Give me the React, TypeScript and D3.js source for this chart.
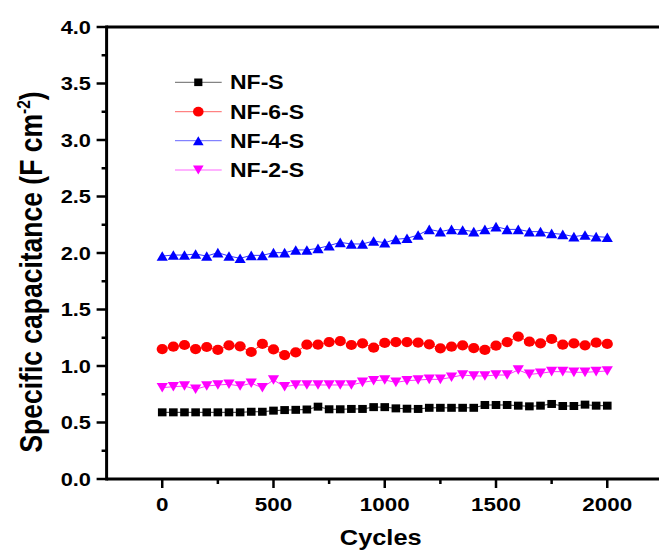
import React from "react";
import * as d3 from "d3";

const cycles: number[] = d3.range(0, 2001, 50);

const nfS: number[] = [
  0.59, 0.59, 0.59, 0.59, 0.59, 0.59, 0.59, 0.59, 0.595, 0.595,
  0.605, 0.61, 0.612, 0.615, 0.64, 0.617, 0.617, 0.62, 0.62, 0.636,
  0.636, 0.625, 0.622, 0.62, 0.63, 0.63, 0.63, 0.63, 0.63, 0.655,
  0.655, 0.655, 0.649, 0.643, 0.649, 0.664, 0.646, 0.646, 0.658, 0.649,
  0.649,
];
const nf6S: number[] = [
  1.15, 1.171, 1.186, 1.15, 1.168, 1.142, 1.183, 1.174, 1.124, 1.195,
  1.148, 1.097, 1.121, 1.189, 1.189, 1.212, 1.221, 1.186, 1.201, 1.162,
  1.204, 1.212, 1.212, 1.206, 1.192, 1.156, 1.171, 1.183, 1.159, 1.142,
  1.18, 1.212, 1.26, 1.215, 1.201, 1.239, 1.189, 1.201, 1.183, 1.206,
  1.195,
];
const nf4S: number[] = [
  1.973, 1.982, 1.982, 1.991, 1.973, 2.003, 1.973, 1.953, 1.979, 1.979,
  2.003, 2.003, 2.027, 2.027, 2.041, 2.065, 2.094, 2.08, 2.08, 2.106,
  2.091, 2.121, 2.13, 2.159, 2.209, 2.189, 2.209, 2.204, 2.189, 2.209,
  2.233, 2.209, 2.209, 2.189, 2.189, 2.174, 2.165, 2.145, 2.159, 2.145,
  2.139,
];
const nf2S: number[] = [
  0.808, 0.817, 0.823, 0.794, 0.823, 0.832, 0.838, 0.823, 0.847, 0.808,
  0.876, 0.817, 0.832, 0.832, 0.832, 0.832, 0.832, 0.832, 0.855, 0.87,
  0.876, 0.855, 0.87, 0.876, 0.882, 0.882, 0.9, 0.92, 0.912, 0.912,
  0.92, 0.92, 0.965, 0.926, 0.935, 0.95, 0.95, 0.944, 0.944, 0.95,
  0.956,
];

const seriesNames: string[] = ["NF-S", "NF-6-S", "NF-4-S", "NF-2-S"];
const seriesColors: string[] = ["#000000", "#ff0000", "#0000ff", "#ff00ff"];
const seriesShapes: string[] = ["square", "circle", "triangleUp", "triangleDown"];
const seriesValues: number[][] = [nfS, nf6S, nf4S, nf2S];

const xTicks: number[] = [0, 500, 1000, 1500, 2000];
const xMinorTicks: number[] = [250, 750, 1250, 1750];
const yTicks: number[] = [0, 0.5, 1, 1.5, 2, 2.5, 3, 3.5, 4];
const yMinorTicks: number[] = [0.25, 0.75, 1.25, 1.75, 2.25, 2.75, 3.25, 3.75];

const W = 659;
const H = 552;
const SX = 1.18;
const FONT = "'Liberation Sans', Arial, sans-serif";

function Marker({ shape, x, y, color, s = 1 }: { shape: string; x: number; y: number; color: string; s?: number }) {
  if (shape === "square") {
    const w = 8.6 * s, h = 8 * s;
    return <rect x={x - w / 2} y={y - h / 2} width={w} height={h} fill={color} />;
  }
  if (shape === "circle") {
    return <ellipse cx={x} cy={y} rx={5.6 * s} ry={5.1 * s} fill={color} />;
  }
  const hw = 5.6 * s, hh = 4.8 * s;
  if (shape === "triangleUp") {
    return <path d={`M${x},${y - hh}L${x + hw},${y + hh}L${x - hw},${y + hh}Z`} fill={color} />;
  }
  return <path d={`M${x},${y + hh}L${x + hw},${y - hh}L${x - hw},${y - hh}Z`} fill={color} />;
}

export default function App() {
  const x = d3.scaleLinear().domain([-250, 2250]).range([106.6, 662.9]);
  const y = d3.scaleLinear().domain([0, 4]).range([479, 27]);
  const x0 = x(-250);
  const y0 = y(0);
  const yTop = y(4);

  const line = d3
    .line<number>()
    .x((_, i) => x(cycles[i]))
    .y((d) => y(d));

  const legendY = [82.3, 111.7, 140.7, 170];

  return (
    <svg
      width={W}
      height={H}
      style={{ position: "absolute", left: 0, top: 0, background: "#fff" }}
      fontFamily={FONT}
    >
      <rect x={0} y={0} width={W} height={H} fill="#fff" />
      {/* series */}
      {seriesValues.map((vals, si) => (
        <g key={seriesNames[si]}>
          <path d={line(vals) || ""} fill="none" stroke={seriesColors[si]} strokeWidth={1} opacity={0.8} />
          {vals.map((v, i) => (
            <Marker key={i} shape={seriesShapes[si]} x={x(cycles[i])} y={y(v)} color={seriesColors[si]} />
          ))}
        </g>
      ))}

      {/* axes */}
      <line x1={x0} x2={W + 5} y1={yTop} y2={yTop} stroke="#000" strokeWidth={3} />
      <line x1={x0} x2={W + 5} y1={y0} y2={y0} stroke="#000" strokeWidth={3} />
      <line x1={x0} x2={x0} y1={yTop - 1.5} y2={y0 + 1.5} stroke="#000" strokeWidth={3} />

      {yTicks.map((t) => (
        <g key={"y" + t}>
          <line x1={x0 - 10} x2={x0} y1={y(t)} y2={y(t)} stroke="#000" strokeWidth={2.5} />
          <text
            transform={`translate(91,${y(t)}) scale(${SX},1)`}
            textAnchor="end"
            dy="0.36em"
            fontSize={18.5}
            fontWeight="bold"
          >
            {t.toFixed(1)}
          </text>
        </g>
      ))}
      {yMinorTicks.map((t) => (
        <line key={"ym" + t} x1={x0 - 5} x2={x0} y1={y(t)} y2={y(t)} stroke="#000" strokeWidth={2.5} />
      ))}
      {xTicks.map((t) => (
        <g key={"x" + t}>
          <line x1={x(t)} x2={x(t)} y1={y0} y2={y0 + 9} stroke="#000" strokeWidth={2.5} />
          <text
            transform={`translate(${x(t)},511) scale(${SX},1)`}
            textAnchor="middle"
            fontSize={19}
            fontWeight="bold"
          >
            {t}
          </text>
        </g>
      ))}
      {xMinorTicks.map((t) => (
        <line key={"xm" + t} x1={x(t)} x2={x(t)} y1={y0} y2={y0 + 5} stroke="#000" strokeWidth={2.5} />
      ))}

      {/* axis titles */}
      <text
        transform={`translate(380.7,545) scale(${SX},1)`}
        textAnchor="middle"
        fontSize={21.5}
        fontWeight="bold"
      >
        Cycles
      </text>
      <text
        transform={`translate(42,272) rotate(-90) scale(1,${SX})`}
        textAnchor="middle"
        fontSize={26.5}
        fontWeight="bold"
      >
        Specific capacitance (F cm
        <tspan fontSize={15.5} dy={-10.5}>-2</tspan>
        <tspan dy={10.5}>)</tspan>
      </text>

      {/* legend */}
      {seriesNames.map((n, i) => (
        <g key={"lg" + n}>
          <line x1={175} x2={221.7} y1={legendY[i]} y2={legendY[i]} stroke={seriesColors[i]} strokeWidth={1} opacity={0.6} />
          <Marker shape={seriesShapes[i]} x={198.3} y={legendY[i]} color={seriesColors[i]} s={0.95} />
          <text
            transform={`translate(230,${legendY[i]}) scale(${SX},1)`}
            dy="0.36em"
            fontSize={19.5}
            fontWeight="bold"
          >
            {n}
          </text>
        </g>
      ))}
    </svg>
  );
}
